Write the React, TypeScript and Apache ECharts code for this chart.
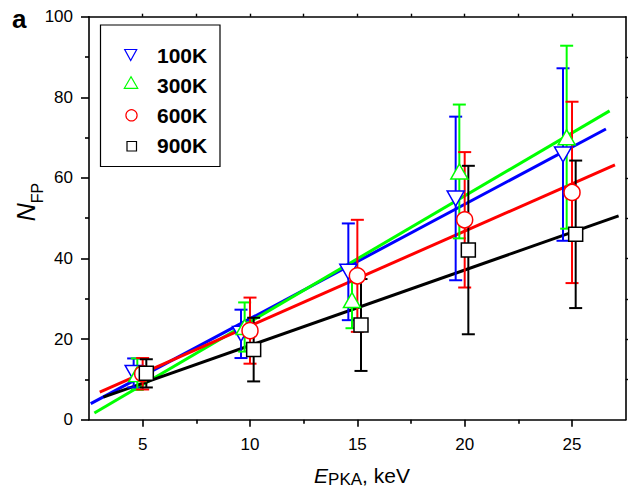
import React, { useEffect, useRef } from "react";
import * as echarts from "echarts";

// ---- data ----
const energies = [5, 10, 15, 20, 25];
const seriesNames = ["100K", "300K", "600K", "900K"];
const xShifts = [-0.42, -0.25, 0, 0.17];
const nfp100K = [11.6, 21.3, 36.7, 54.9, 65.8];
const err100K = [3.6, 6.0, 12.0, 20.3, 21.4];
const nfp300K = [11.3, 23.0, 29.7, 61.6, 70.1];
const err300K = [3.9, 6.1, 7.0, 16.6, 22.7];
const nfp600K = [11.4, 22.1, 35.7, 49.6, 56.4];
const err600K = [3.9, 8.2, 13.9, 16.8, 22.5];
const nfp900K = [11.5, 17.4, 23.5, 42.1, 46.0];
const err900K = [3.5, 7.9, 11.4, 20.9, 18.3];

const xLabelTicks = [5, 10, 15, 20, 25];
const xMinorTicks = [7.5, 12.5, 17.5, 22.5];
const xTopTicks = [5, 7.5, 10, 12.5, 15, 17.5, 20, 22.5, 25];
const yLabelTicks = [0, 20, 40, 60, 80, 100];
const yMinorTicks = [10, 30, 50, 70, 90];
const yRightTicks = [10, 20, 30, 40, 50, 60, 70, 80, 90];

// ---- styles ----
const seriesValues = [nfp100K, nfp300K, nfp600K, nfp900K];
const seriesErrors = [err100K, err300K, err600K, err900K];
const colors = ["#0000ff", "#00ff00", "#ff0000", "#000000"];
const symbols = ["triangle", "triangle", "circle", "rect"];
const symbolRotations = [180, 0, 0, 0];
const symbolSizes: any[] = [[17, 15], [17, 15], 16, 14];
const FONT = "'Liberation Sans', Arial, Helvetica, sans-serif";

function fitLine(xs: number[], ys: number[]) {
  const n = xs.length;
  const mx = xs.reduce((a, b) => a + b, 0) / n;
  const my = ys.reduce((a, b) => a + b, 0) / n;
  let sxy = 0;
  let sxx = 0;
  for (let i = 0; i < n; i++) {
    sxy += (xs[i] - mx) * (ys[i] - my);
    sxx += (xs[i] - mx) * (xs[i] - mx);
  }
  const b = sxy / sxx;
  const a = my - b * mx;
  const x0 = Math.min(...xs) - 2;
  const x1 = Math.max(...xs) + 2;
  return [
    [x0, a + b * x0],
    [x1, a + b * x1],
  ];
}

const X_MIN = 2.5;
const X_MAX = 27.5;
const Y_MIN = 0;
const Y_MAX = 100;

const axisLineStyle = { show: true, onZero: false, lineStyle: { color: "#000", width: 1.6 } };

export default function App() {
  const ref = useRef<HTMLDivElement>(null);

  useEffect(() => {
    if (!ref.current) return;
    const chart = echarts.init(ref.current, undefined, { renderer: "svg" });

    const series: any[] = [];
    seriesNames.forEach((name, s) => {
      const xs = energies.map((e) => e + xShifts[s]);
      series.push({
        name: name + " fit",
        type: "line",
        z: 1,
        data: fitLine(xs, seriesValues[s]),
        showSymbol: false,
        symbol: "none",
        lineStyle: { color: colors[s], width: 3 },
        silent: true,
      });
    });
    seriesNames.forEach((name, s) => {
      const color = colors[s];
      series.push({
        name: name + " err",
        type: "custom",
        z: 2,
        data: energies.map((e, i) => [e + xShifts[s], seriesValues[s][i], seriesErrors[s][i]]),
        encode: { x: 0, y: 1 },
        renderItem: (_p: any, api: any) => {
          const x = api.value(0);
          const y = api.value(1);
          const e = api.value(2);
          const top = api.coord([x, y + e]);
          const bot = api.coord([x, y - e]);
          const w = 6.5;
          const style = { stroke: color, lineWidth: 2 };
          return {
            type: "group",
            children: [
              { type: "line", shape: { x1: top[0], y1: top[1], x2: bot[0], y2: bot[1] }, style },
              { type: "line", shape: { x1: top[0] - w, y1: top[1], x2: top[0] + w, y2: top[1] }, style },
              { type: "line", shape: { x1: bot[0] - w, y1: bot[1], x2: bot[0] + w, y2: bot[1] }, style },
            ],
          };
        },
      });
    });
    seriesNames.forEach((name, s) => {
      series.push({
        name,
        type: "scatter",
        z: 3,
        data: energies.map((e, i) => [e + xShifts[s], seriesValues[s][i]]),
        symbol: symbols[s],
        symbolRotate: symbolRotations[s],
        symbolSize: symbolSizes[s],
        itemStyle: { color: "#ffffff", borderColor: colors[s], borderWidth: 1.5, opacity: 1 },
      });
    });

    const legendY = [55, 85, 115, 145];
    const legendGraphics: any[] = [
      {
        type: "rect",
        shape: { x: 100.5, y: 25, width: 119.5, height: 141.5 },
        style: { fill: "#fff", stroke: "#000", lineWidth: 1.2 },
        z: 100,
      },
      {
        type: "polygon",
        shape: { points: [[124.7, legendY[0] - 5.5], [136.7, legendY[0] - 5.5], [130.7, legendY[0] + 5.5]] },
        style: { fill: "#fff", stroke: colors[0], lineWidth: 1.2 },
        z: 101,
      },
      {
        type: "polygon",
        shape: { points: [[131, legendY[1] - 8.3], [124.3, legendY[1] + 3.3], [137.7, legendY[1] + 3.3]] },
        style: { fill: "#fff", stroke: colors[1], lineWidth: 1.2 },
        z: 101,
      },
      {
        type: "circle",
        shape: { cx: 131.5, cy: legendY[2] + 0.3, r: 5.6 },
        style: { fill: "#fff", stroke: colors[2], lineWidth: 1.2 },
        z: 101,
      },
      {
        type: "rect",
        shape: { x: 127, y: legendY[3] - 3.5, width: 9.5, height: 9.5 },
        style: { fill: "#fff", stroke: colors[3], lineWidth: 1.2 },
        z: 101,
      },
    ];
    seriesNames.forEach((name, s) => {
      legendGraphics.push({
        type: "text",
        x: 157,
        y: legendY[s],
        z: 101,
        style: {
          text: name,
          fill: "#000",
          font: `bold 21px ${FONT}`,
          align: "left",
          verticalAlign: "middle",
        },
      });
    });

    const option: any = {
      animation: false,
      backgroundColor: "#fff",
      grid: { left: 89, right: 2.3, top: 16.7, bottom: 69.3, containLabel: false },
      xAxis: [
        {
          type: "value",
          min: X_MIN,
          max: X_MAX,
          position: "bottom",
          axisLine: axisLineStyle,
          splitLine: { show: false },
          axisTick: { show: true, inside: false, length: 7, customValues: xLabelTicks, lineStyle: { color: "#000", width: 1.6 } },
          axisLabel: { show: true, customValues: xLabelTicks, margin: 16, color: "#000", fontSize: 17, fontFamily: FONT },
        },
        {
          type: "value",
          min: X_MIN,
          max: X_MAX,
          position: "bottom",
          axisLine: { show: false, onZero: false },
          splitLine: { show: false },
          axisTick: { show: true, inside: false, length: 4, customValues: xMinorTicks, lineStyle: { color: "#000", width: 1.6 } },
          axisLabel: { show: false },
        },
        {
          type: "value",
          min: X_MIN,
          max: X_MAX,
          position: "top",
          axisLine: axisLineStyle,
          splitLine: { show: false },
          axisTick: { show: true, inside: false, length: 3, customValues: xTopTicks, lineStyle: { color: "#000", width: 1.4 } },
          axisLabel: { show: false },
        },
      ],
      yAxis: [
        {
          type: "value",
          min: Y_MIN,
          max: Y_MAX,
          position: "left",
          axisLine: axisLineStyle,
          splitLine: { show: false },
          axisTick: { show: true, inside: false, length: 8, customValues: yLabelTicks, lineStyle: { color: "#000", width: 1.6 } },
          axisLabel: { show: true, customValues: yLabelTicks, margin: 16, color: "#000", fontSize: 17, fontFamily: FONT },
        },
        {
          type: "value",
          min: Y_MIN,
          max: Y_MAX,
          position: "left",
          axisLine: { show: false, onZero: false },
          splitLine: { show: false },
          axisTick: { show: true, inside: false, length: 4, customValues: yMinorTicks, lineStyle: { color: "#000", width: 1.6 } },
          axisLabel: { show: false },
        },
        {
          type: "value",
          min: Y_MIN,
          max: Y_MAX,
          position: "right",
          axisLine: axisLineStyle,
          splitLine: { show: false },
          axisTick: { show: true, inside: false, length: 3, customValues: yRightTicks, lineStyle: { color: "#000", width: 1.4 } },
          axisLabel: { show: false },
        },
      ],
      graphic: [
        {
          type: "text",
          x: 12,
          y: 18.5,
          style: { text: "a", fill: "#000", font: `bold 26px ${FONT}`, align: "left", verticalAlign: "middle" },
        },
        {
          type: "text",
          x: 362,
          y: 475.8,
          style: {
            text: "{i|E}{s|PKA}{n|, keV}",
            align: "center",
            verticalAlign: "middle",
            fill: "#000",
            rich: {
              i: { fontStyle: "italic", fontSize: 21, fontFamily: FONT, lineHeight: 25, fill: "#000" },
              s: { fontSize: 17, fontFamily: FONT, verticalAlign: "bottom", fill: "#000" },
              n: { fontSize: 21, fontFamily: FONT, lineHeight: 25, fill: "#000" },
            },
          },
        },
        {
          type: "text",
          x: 26,
          y: 202,
          rotation: Math.PI / 2,
          style: {
            text: "{i|N}{s|FP}",
            align: "center",
            verticalAlign: "middle",
            fill: "#000",
            rich: {
              i: { fontStyle: "italic", fontSize: 25, fontFamily: FONT, lineHeight: 38, fill: "#000" },
              s: { fontSize: 16, fontFamily: FONT, verticalAlign: "bottom", fill: "#000" },
            },
          },
        },
        ...legendGraphics,
      ],
      series,
    };

    chart.setOption(option);
    return () => {
      chart.dispose();
    };
  }, []);

  return (
    <div
      ref={ref}
      style={{ position: "fixed", left: 0, top: 0, width: 628, height: 489, background: "#fff" }}
    />
  );
}
